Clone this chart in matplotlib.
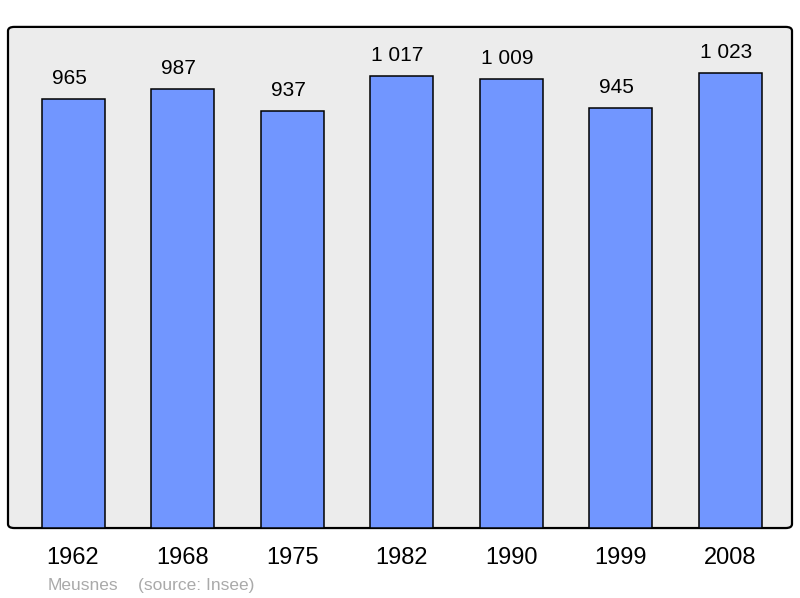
import matplotlib
matplotlib.use('Agg')
import matplotlib.pyplot as plt
from matplotlib.patches import FancyBboxPatch

plt.rcParams['font.family'] = ['Liberation Sans', 'DejaVu Sans']

# population data
years = ['1962', '1968', '1975', '1982', '1990', '1999', '2008']
population = [965, 987, 937, 1017, 1009, 945, 1023]
labels = ['965', '987', '937', '1 017', '1 009', '945', '1 023']

fig = plt.figure(figsize=(8, 5.98), dpi=100)
ax = fig.add_axes([0.01, 0.117, 0.98, 0.838])
ax.set_facecolor('none')

# rounded grey panel behind the bars
panel = FancyBboxPatch((0, 0), 1, 1, boxstyle='round,pad=0,rounding_size=0.008',
                       transform=ax.transAxes, facecolor='#ececec',
                       edgecolor='black', linewidth=1.6, zorder=0, clip_on=False)
ax.add_patch(panel)

x = range(len(years))
ax.bar(x, population, width=0.575, color='#7196ff', edgecolor='black',
       linewidth=1.1, zorder=2)
# value labels sit a little left of bar centre, like the original
for i, v in enumerate(population):
    ax.text(i - 0.037, v + 46, labels[i], ha='center', va='center', fontsize=15, zorder=3)

ax.set_xlim(-0.594, 6.565)
ax.set_ylim(0, 1127)
for s in ax.spines.values():
    s.set_visible(False)
ax.set_yticks([])
ax.set_xticks(list(x))
ax.set_xticklabels(years, fontsize=17)
ax.tick_params(axis='x', length=0, pad=14)

fig.text(48 / 800, 1 - 590 / 598, 'Meusnes', color='#aaaaaa', fontsize=12.5, va='baseline')
fig.text(138 / 800, 1 - 590 / 598, '(source: Insee)', color='#aaaaaa', fontsize=12.5, va='baseline')

fig.savefig('out.png', dpi=100)
